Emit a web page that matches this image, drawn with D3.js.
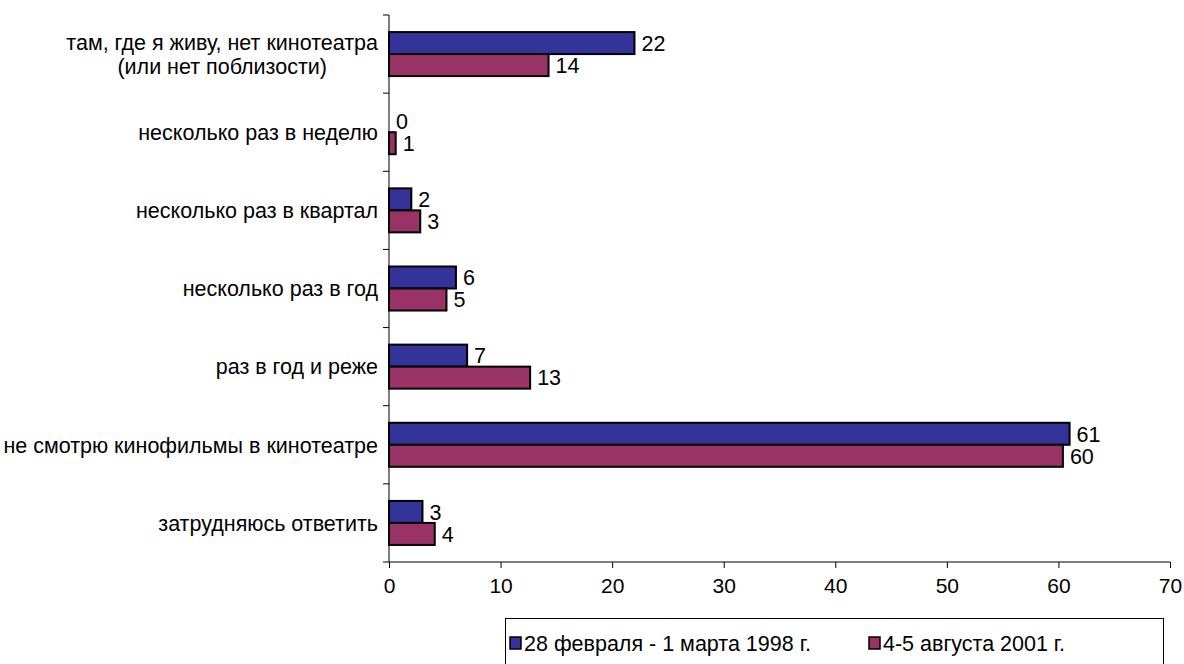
<!DOCTYPE html>
<html><head><meta charset="utf-8">
<script src="https://cdn.jsdelivr.net/npm/d3@7"></script>
<style>
html,body{margin:0;padding:0;background:#fff;}
svg text{font-family:"Liberation Sans",Arial,sans-serif;fill:#000;}
</style></head>
<body><svg id="c" width="1184" height="664"></svg>
<script>
const categories = [
  ["там, где я живу, нет кинотеатра", "(или нет поблизости)"],
  ["несколько раз в неделю"],
  ["несколько раз в квартал"],
  ["несколько раз в год"],
  ["раз в год и реже"],
  ["не смотрю кинофильмы в кинотеатре"],
  ["затрудняюсь ответить"]
];
const seriesNames = ["28 февраля - 1 марта 1998 г.", "4-5 августа 2001 г."];
const values1998 = [22, 0, 2, 6, 7, 61, 3];
const values2001 = [14.3, 0.6, 2.8, 5.15, 12.65, 60.4, 4.1];
const xTicks = [0, 10, 20, 30, 40, 50, 60, 70];
const colors = ["#333399", "#993366"];

const svg = d3.select("#c");
const FS = 21.5;
const x = d3.scaleLinear().domain([0, 70]).range([389, 1170]);
const y = d3.scaleBand().domain(d3.range(categories.length)).range([15, 562]).paddingInner(0).paddingOuter(0);
const sub = d3.scaleBand().domain([0, 1]).range([0, y.bandwidth()]).paddingInner(0).paddingOuter(0.775);

const series = [values1998, values2001];

// bars
series.forEach((vals, si) => {
  svg.append("g").selectAll("rect").data(vals).join("rect")
    .attr("x", x(0))
    .attr("y", (d, i) => y(i) + sub(si))
    .attr("width", d => x(d) - x(0))
    .attr("height", sub.bandwidth())
    .attr("fill", colors[si])
    .attr("stroke", "#000")
    .attr("stroke-width", 2);
});
// data labels
series.forEach((vals, si) => {
  svg.append("g").selectAll("text").data(vals).join("text")
    .attr("x", d => x(d) + 7)
    .attr("y", (d, i) => y(i) + sub(si) + sub.bandwidth() / 2)
    .attr("dy", "0.36em")
    .attr("font-size", FS)
    .text(d => Math.round(d));
});

// x axis
const xAxis = d3.axisBottom(x).tickValues(xTicks).tickSize(6).tickPadding(10).tickSizeOuter(0);
const gx = svg.append("g").attr("transform", "translate(0,562)").call(xAxis);
gx.select(".domain").attr("stroke", "#000");
gx.selectAll(".tick line").attr("stroke", "#000");
gx.selectAll(".tick text").attr("font-size", 21).attr("font-family", "Liberation Sans, Arial, sans-serif").attr("fill", "#000");
gx.select(".domain").attr("d", `M${x(0)},0H${x(70)}`);

// y axis line and ticks at band boundaries
svg.append("line").attr("x1", x(0)).attr("x2", x(0)).attr("y1", 15).attr("y2", 562).attr("stroke", "#000");
const bounds = d3.range(categories.length + 1).map(i => 15 + i * y.step());
svg.append("g").selectAll("line").data(bounds).join("line")
  .attr("x1", x(0) - 6).attr("x2", x(0)).attr("y1", d => d).attr("y2", d => d).attr("stroke", "#000");

// category labels
const labelRight = 378;
categories.forEach((lines, i) => {
  const cy = y(i) + y.bandwidth() / 2;
  const g = svg.append("g");
  const lh = 24;
  const texts = lines.map((ln, j) => g.append("text")
    .attr("font-size", FS)
    .attr("y", cy + (j - (lines.length - 1) / 2) * lh)
    .attr("dy", "0.36em")
    .text(ln));
  const w = d3.max(texts, t => t.node().getComputedTextLength());
  texts.forEach(t => t.attr("text-anchor", "middle").attr("x", labelRight - w / 2));
});

// legend
const lg = svg.append("g");
lg.append("rect").attr("x", 505.5).attr("y", 618.5).attr("width", 658).attr("height", 70)
  .attr("fill", "#fff").attr("stroke", "#000");
const legendX = [510, 869];
seriesNames.forEach((n, i) => {
  lg.append("rect").attr("x", legendX[i]).attr("y", 637).attr("width", 11).attr("height", 12)
    .attr("fill", colors[i]).attr("stroke", "#000").attr("stroke-width", 1.5);
  lg.append("text").attr("x", legendX[i] + 14).attr("y", 643).attr("dy", "0.36em")
    .attr("font-size", FS).text(n);
});
</script></body></html>
